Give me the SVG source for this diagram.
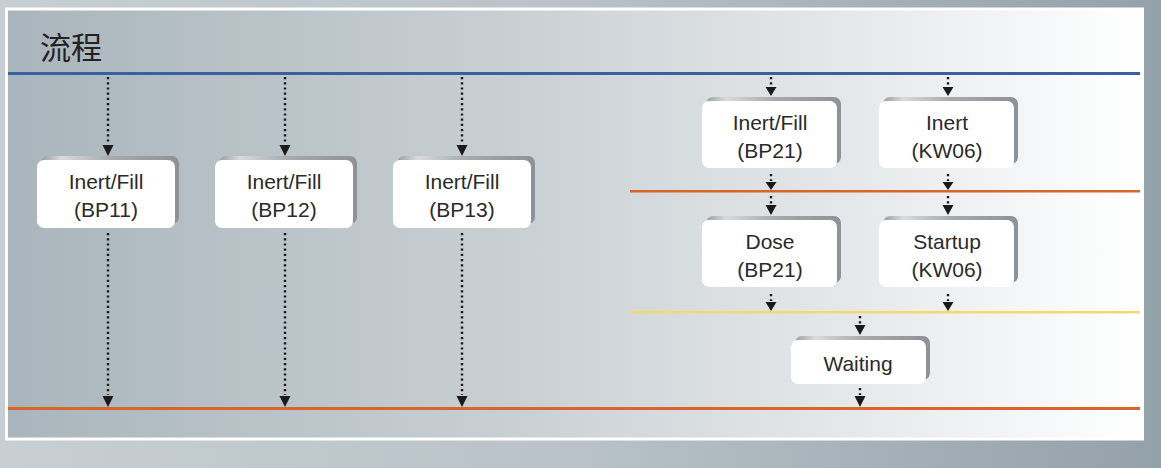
<svg xmlns="http://www.w3.org/2000/svg" width="1161" height="468" viewBox="0 0 1161 468">
<defs>
<linearGradient id="bgOuter" x1="0" y1="0" x2="1" y2="0">
<stop offset="0" stop-color="#c7cfd4"/>
<stop offset="0.5" stop-color="#b8c2c8"/>
<stop offset="1" stop-color="#93a1a9"/>
</linearGradient>
<linearGradient id="bgPanel" x1="0" y1="0" x2="1" y2="0">
<stop offset="0" stop-color="#a9b5bc"/>
<stop offset="0.45" stop-color="#c9d0d4"/>
<stop offset="0.75" stop-color="#e6e9eb"/>
<stop offset="1" stop-color="#ffffff"/>
</linearGradient>
<linearGradient id="shade" x1="0" y1="0" x2="1" y2="0">
<stop offset="0" stop-color="#9a9ea2"/>
<stop offset="0.15" stop-color="#d8dadc"/>
<stop offset="0.5" stop-color="#a7abaf"/>
<stop offset="1" stop-color="#8e9296"/>
</linearGradient>
<style>
.dot{stroke:#1a1a1a;stroke-width:2.4;stroke-dasharray:2.2 3;fill:none}
.tri{fill:#1a1a1a}
.box{fill:#ffffff}
.sh{fill:url(#shade)}
.t{font-family:"Liberation Sans","Noto Sans",sans-serif;font-size:21px;fill:#2a2a2a;text-anchor:middle}
.title{font-family:"Noto Sans CJK SC","Noto Sans CJK TC",sans-serif;font-size:31px;fill:#222222}
</style>
</defs>
<rect x="0" y="0" width="1161" height="468" fill="url(#bgOuter)"/>
<rect x="6.5" y="9" width="1136" height="430" fill="url(#bgPanel)" stroke="#ffffff" stroke-width="3"/>
<text class="title" x="40" y="59">流程</text>
<g id="lines">
<rect x="8" y="72" width="1132" height="3" fill="#3c5f9f"/>
<rect x="8" y="407" width="1132" height="3" fill="#d8662a"/>
<rect x="630" y="190" width="510" height="2.5" fill="#d8662a"/>
<rect x="630" y="311" width="510" height="2.5" fill="#f6d96b"/>
</g>
<g id="connectors">
<path class="dot" d="M108,77 V143"/><path class="tri" d="M102.5,145 L113.5,145 L108,156 Z"/>
<path class="dot" d="M285,77 V143"/><path class="tri" d="M279.5,145 L290.5,145 L285,156 Z"/>
<path class="dot" d="M462,77 V143"/><path class="tri" d="M456.5,145 L467.5,145 L462,156 Z"/>
<path class="dot" d="M108,233 V395"/><path class="tri" d="M102.5,396 L113.5,396 L108,407 Z"/>
<path class="dot" d="M285,233 V395"/><path class="tri" d="M279.5,396 L290.5,396 L285,407 Z"/>
<path class="dot" d="M462,233 V395"/><path class="tri" d="M456.5,396 L467.5,396 L462,407 Z"/>
<path class="dot" d="M771,77 V86"/><path class="tri" d="M765.5,87 L776.5,87 L771,96 Z"/>
<path class="dot" d="M948,77 V86"/><path class="tri" d="M942.5,87 L953.5,87 L948,96 Z"/>
<path class="dot" d="M771,174 V181"/><path class="tri" d="M765.5,182 L776.5,182 L771,190 Z"/>
<path class="dot" d="M948,174 V181"/><path class="tri" d="M942.5,182 L953.5,182 L948,190 Z"/>
<path class="dot" d="M771,196 V204"/><path class="tri" d="M765.5,205 L776.5,205 L771,215 Z"/>
<path class="dot" d="M948,196 V204"/><path class="tri" d="M942.5,205 L953.5,205 L948,215 Z"/>
<path class="dot" d="M771,294 V301"/><path class="tri" d="M765.5,302 L776.5,302 L771,311 Z"/>
<path class="dot" d="M948,294 V301"/><path class="tri" d="M942.5,302 L953.5,302 L948,311 Z"/>
<path class="dot" d="M860,316 V324"/><path class="tri" d="M854.5,325 L865.5,325 L860,335 Z"/>
<path class="dot" d="M860,388 V395"/><path class="tri" d="M854.5,396 L865.5,396 L860,407 Z"/>
</g>
<g id="n-bp11">
<rect class="sh" x="41" y="156" width="138" height="68" rx="7"/>
<rect class="box" x="37" y="160" width="138" height="68" rx="7"/>
<text class="t" x="106" y="189">Inert/Fill</text><text class="t" x="106" y="217">(BP11)</text>
</g>
<g id="n-bp12">
<rect class="sh" x="219" y="156" width="138" height="68" rx="7"/>
<rect class="box" x="215" y="160" width="138" height="68" rx="7"/>
<text class="t" x="284" y="189">Inert/Fill</text><text class="t" x="284" y="217">(BP12)</text>
</g>
<g id="n-bp13">
<rect class="sh" x="397" y="156" width="138" height="68" rx="7"/>
<rect class="box" x="393" y="160" width="138" height="68" rx="7"/>
<text class="t" x="462" y="189">Inert/Fill</text><text class="t" x="462" y="217">(BP13)</text>
</g>
<g id="n-bp21-fill">
<rect class="sh" x="706" y="97" width="135" height="67" rx="7"/>
<rect class="box" x="702" y="101" width="135" height="67" rx="7"/>
<text class="t" x="770" y="130">Inert/Fill</text><text class="t" x="770" y="158">(BP21)</text>
</g>
<g id="n-kw06-inert">
<rect class="sh" x="883" y="97" width="135" height="67" rx="7"/>
<rect class="box" x="879" y="101" width="135" height="67" rx="7"/>
<text class="t" x="947" y="130">Inert</text><text class="t" x="947" y="158">(KW06)</text>
</g>
<g id="n-bp21-dose">
<rect class="sh" x="706" y="216" width="135" height="67" rx="7"/>
<rect class="box" x="702" y="220" width="135" height="67" rx="7"/>
<text class="t" x="770" y="249">Dose</text><text class="t" x="770" y="277">(BP21)</text>
</g>
<g id="n-kw06-startup">
<rect class="sh" x="883" y="216" width="135" height="67" rx="7"/>
<rect class="box" x="879" y="220" width="135" height="67" rx="7"/>
<text class="t" x="947" y="249">Startup</text><text class="t" x="947" y="277">(KW06)</text>
</g>
<g id="n-waiting">
<rect class="sh" x="795" y="336" width="135" height="44" rx="7"/>
<rect class="box" x="791" y="340" width="135" height="44" rx="7"/>
<text class="t" x="858" y="371">Waiting</text>
</g>
</svg>
